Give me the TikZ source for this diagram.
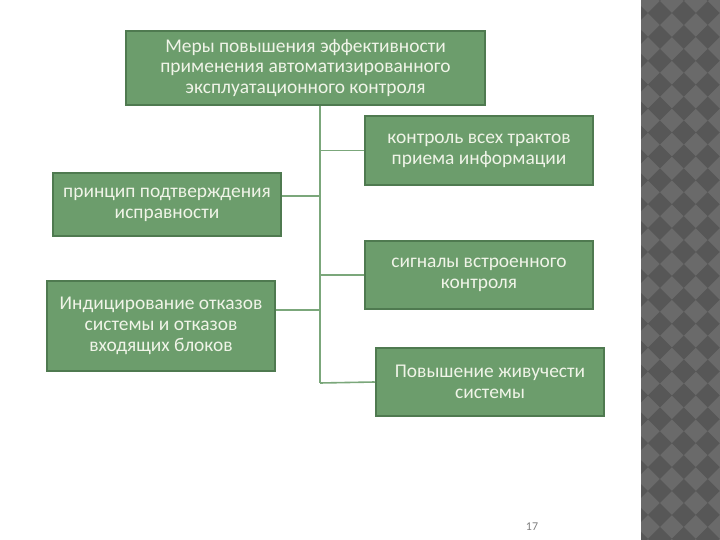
\documentclass[tikz,border=0pt]{standalone}
\usepackage{fontspec}
\setmainfont{Carlito}
\usepackage{xcolor}
\usepackage{tikz}
\usetikzlibrary{calc,backgrounds}

\definecolor{boxfill}{HTML}{6C9D6C}
\definecolor{boxline}{HTML}{4F7A50}
\definecolor{linkcol}{HTML}{7BA77B}
\definecolor{boxtext}{HTML}{F0F4E8}
\definecolor{stripdark}{HTML}{575757}
\definecolor{striplight}{HTML}{6A6A6A}

\begin{document}
\begin{tikzpicture}[x=1bp,y=-1bp]
    \tikzstyle{measure}=[draw=boxline,line width=2.5bp,fill=boxfill,
      text=boxtext,align=center,inner sep=0pt,
      font=\fontsize{19.5}{21}\selectfont]
    \tikzstyle{link}=[draw=linkcol,line width=1.6bp]

    \useasboundingbox (0,0) rectangle (720,540);

    % grey diamond strip on the right
    \begin{scope}
      \clip (641,0) rectangle (720,540);
      \fill[striplight] (641,0) rectangle (720,540);
      \foreach \i in {0,...,4} {
        \foreach \j in {-1,...,23} {
          \fill[stripdark] ($(636+23.9*\i,13+23.9*\j)$) +(-11.95,0) -- +(0,-11.95)
            -- +(11.95,0) -- +(0,11.95) -- cycle;
        }
      }
    \end{scope}

    \node[measure,minimum width=359bp,minimum height=74bp] (top) at (305.5,68)
      {Меры повышения эффективности\\применения автоматизированного\\эксплуатационного контроля};

    \node[measure,minimum width=228bp,minimum height=69bp] (paths) at (479,150.5)
      {контроль всех трактов\\приема информации};
    \node[measure,minimum width=228bp,minimum height=63bp] (confirm) at (167,204.5)
      {принцип подтверждения\\исправности};
    \node[measure,minimum width=228bp,minimum height=68bp] (builtin) at (479,275)
      {сигналы встроенного\\контроля};
    \node[measure,minimum width=228bp,minimum height=90bp] (indic) at (161,326)
      {Индицирование отказов\\системы и отказов\\входящих блоков};
    \node[measure,minimum width=228bp,minimum height=68bp] (surv) at (490,382)
      {Повышение живучести\\системы};

    \coordinate (trunk) at (320,383);

    \begin{pgfonlayer}{background}
      \draw[link] (top.south -| trunk) -- (trunk);
      \draw[link] (paths.west) -- (paths.west -| trunk);
      \draw[link] ([yshift=8.5bp]confirm.east) -- ([yshift=8.5bp]confirm.east -| trunk);
      \draw[link] (builtin.west) -- (builtin.west -| trunk);
      \draw[link] ([yshift=16bp]indic.east) -- ([yshift=16bp]indic.east -| trunk);
      \draw[link] (surv.west) -- (trunk);
    \end{pgfonlayer}

    \node[text=gray,font=\fontsize{12}{14}\selectfont] (pagenum) at (532,527) {17};
\end{tikzpicture}
\end{document}
